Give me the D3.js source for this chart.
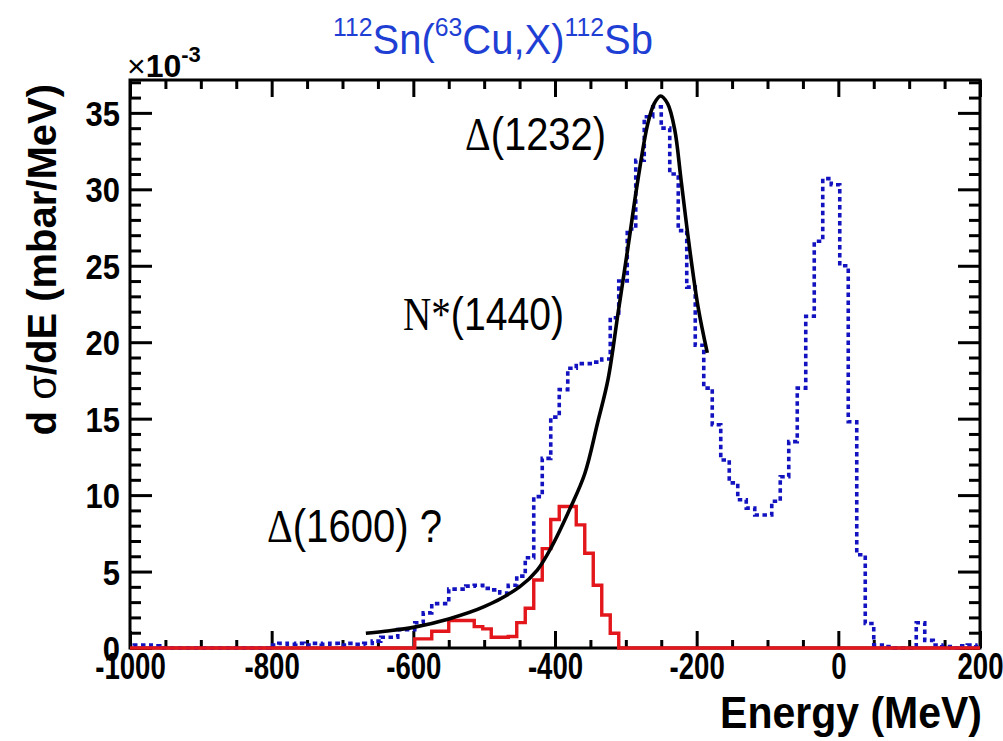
<!DOCTYPE html>
<html>
<head>
<meta charset="utf-8">
<script src="https://cdn.jsdelivr.net/npm/d3@7"></script>
<style>
  html, body { margin: 0; padding: 0; background: #fff; }
  svg { display: block; }
</style>
</head>
<body>
<svg id="chart" width="1003" height="741"></svg>
<script>
// Energy-transfer spectrum, 112Sn(63Cu,X)112Sb, in units of 1e-3 mbar/MeV.
// Both histograms share 12 MeV bins whose first lower edge is binStart.
const binStart = -1006;
const binWidth = 12;

// dashed blue histogram (measured spectrum)
const blueCounts = [
  0.15, 0.2, 0.2, 0.15, 0, 0, 0, 0, 0, 0,
  0, 0, 0, 0, 0, 0, 0, 0.2, 0.3, 0.25,
  0.3, 0.2, 0.3, 0.25, 0.3, 0.2, 0.3, 0.25, 0.3, 0.45,
  0.7, 0.7, 1.2, 1.2, 1.65, 2.3, 2.9, 2.9, 3.85, 3.85,
  4.05, 4.1, 3.9, 3.8, 3.6, 4.1, 4.7, 5.9, 9.9, 12.4,
  15.1, 16.9, 18.3, 18.6, 18.6, 18.7, 18.9, 21.6, 24.0, 27.4,
  31.9, 34.75, 35.4, 34.0, 31.0, 27.3, 23.6, 19.8, 17.0, 14.6,
  12.3, 10.8, 9.7, 9.15, 8.7, 8.7, 9.6, 11.2, 13.5, 17.0,
  21.7, 26.6, 30.7, 30.3, 25.0, 14.8, 6.1, 1.6, 0.2, 0.1,
  0, 0, 0, 1.65, 0.5, 0.2, 0.1, 0, 0.15, 0.2,
  0.1
];

// solid red histogram
const redCounts = [
  0, 0, 0, 0, 0, 0, 0, 0, 0, 0,
  0, 0, 0, 0, 0, 0, 0, 0, 0, 0,
  0, 0, 0, 0, 0, 0, 0, 0, 0, 0,
  0, 0, 0, 0, 0.6, 0.6, 1.1, 1.1, 1.8, 1.8,
  1.8, 1.4, 1.25, 0.7, 0.7, 0.75, 1.66, 2.6, 4.45, 6.5,
  8.4, 9.25, 9.25, 8.05, 6.2, 4.1, 2.16, 0.96, 0, 0,
  0, 0, 0, 0, 0, 0, 0, 0, 0, 0,
  0, 0, 0, 0, 0, 0, 0, 0, 0, 0,
  0, 0, 0, 0, 0, 0, 0, 0, 0, 0,
  0, 0, 0, 0, 0, 0, 0, 0, 0, 0,
  0
];

// black fitted curve (resonance line shape)
const fitEnergy = [-667, -640, -600, -550, -500, -450, -425, -405, -378, -358,
                   -340, -325, -311, -297, -283, -269, -260, -251, -241, -231,
                   -222, -211, -198, -185];
const fitValue  = [0.96, 1.1, 1.35, 1.9, 2.7, 4.0, 5.1, 6.6, 9.2, 11.4,
                   14.7, 17.6, 21.9, 26.2, 30.6, 34.3, 35.6, 36.1, 35.6, 33.9,
                   30.6, 26.5, 22.3, 19.3];

const xMajor = [-1000, -800, -600, -400, -200, 0, 200];
const xMinor = d3.range(-1000, 201, 50).filter(v => !xMajor.includes(v));
const yMajor = [0, 5, 10, 15, 20, 25, 30, 35];
const yMinor = d3.range(0, 38, 1).filter(v => !yMajor.includes(v));

const annotations = [
  { parts: [["\u0394", "serif"], ["(1232)", "sans"]], x: 465, y: 150, w: 141 },
  { parts: [["N*", "serif"], ["(1440)", "sans"]],     x: 403, y: 330, w: 161 },
  { parts: [["\u0394", "serif"], ["(1600) ?", "sans"]], x: 267, y: 542, w: 175 }
];

// ---------------------------------------------------------------------------
const svg = d3.select("#chart");
const pL = 130, pR = 980, pT = 80, pB = 648;
const x = d3.scaleLinear().domain([-1000, 200]).range([pL, pR]);
const y = d3.scaleLinear().domain([0, 37.15]).range([pB, pT]);

svg.append("rect").attr("width", 1003).attr("height", 741).attr("fill", "#fff");

svg.append("defs").append("clipPath").attr("id", "plotClip")
  .append("rect").attr("x", pL).attr("y", pT - 2)
  .attr("width", pR - pL).attr("height", pB - pT + 5);

// frame
svg.append("rect")
  .attr("x", pL).attr("y", pT)
  .attr("width", pR - pL).attr("height", pB - pT)
  .attr("fill", "none").attr("stroke", "#000").attr("stroke-width", 3);

// inward ticks on all four sides
function tickAxis(axis, transform) {
  const g = svg.append("g").attr("transform", transform).call(axis);
  g.select(".domain").remove();
  g.selectAll(".tick text").remove();
  g.selectAll(".tick line").attr("stroke", "#000").attr("stroke-width", 3);
  return g;
}
tickAxis(d3.axisBottom(x).tickValues(xMajor).tickSize(-17), `translate(0,${pB})`);
tickAxis(d3.axisBottom(x).tickValues(xMinor).tickSize(-8), `translate(0,${pB})`);
tickAxis(d3.axisTop(x).tickValues(xMajor).tickSize(-17), `translate(0,${pT})`);
tickAxis(d3.axisTop(x).tickValues(xMinor).tickSize(-9), `translate(0,${pT})`);
tickAxis(d3.axisLeft(y).tickValues(yMajor).tickSize(-22), `translate(${pL},0)`);
tickAxis(d3.axisLeft(y).tickValues(yMinor).tickSize(-11), `translate(${pL},0)`);
tickAxis(d3.axisRight(y).tickValues(yMajor).tickSize(-22), `translate(${pR},0)`);
tickAxis(d3.axisRight(y).tickValues(yMinor).tickSize(-11), `translate(${pR},0)`);

// tick labels (slightly tall, narrow lettering)
const labelFont = "'Liberation Sans', Arial, sans-serif";
const xl = svg.append("g").attr("transform", `translate(0,${pB})`)
  .call(d3.axisBottom(x).tickValues(xMajor).tickSize(0).tickPadding(0).tickFormat(d => String(d)));
xl.select(".domain").remove();
xl.selectAll("text")
  .attr("font-family", labelFont).attr("font-weight", "bold")
  .attr("font-size", 30).attr("fill", "#000")
  .attr("dy", null).attr("y", 31 / 1.22)
  .attr("transform", "scale(0.92,1.22)");
// the last label sits flush against the right edge
xl.selectAll(".tick").filter(d => d === 200).select("text")
  .attr("text-anchor", "end").attr("x", 23 / 0.92);

const yl = svg.append("g").attr("transform", `translate(${pL},0)`)
  .call(d3.axisLeft(y).tickValues(yMajor).tickSize(0).tickPadding(10).tickFormat(d => String(d)));
yl.select(".domain").remove();
yl.selectAll("text")
  .attr("font-family", labelFont).attr("font-weight", "bold")
  .attr("font-size", 31).attr("fill", "#000").attr("dy", "0.36em")
  .attr("transform", "scale(1,1.12)");

// exponent marker
const expo = svg.append("text").attr("x", 127).attr("y", 77)
  .attr("font-family", labelFont).attr("font-size", 32).attr("fill", "#000");
expo.append("tspan").text("\u00d7");
expo.append("tspan").attr("font-weight", "bold").text("10");
expo.append("tspan").attr("font-weight", "bold").attr("font-size", 22).attr("dy", -15).text("-3");

// axis titles
svg.append("text")
  .attr("x", pR + 2).attr("y", 728)
  .attr("text-anchor", "end")
  .attr("font-family", labelFont).attr("font-weight", "bold")
  .attr("font-size", 41).attr("fill", "#000")
  .attr("transform", `translate(0,${-728 * 0.1}) scale(1,1.1)`)
  .text("Energy (MeV)");

const yt = svg.append("text")
  .attr("transform", "translate(56,84) rotate(-90)")
  .attr("text-anchor", "end")
  .attr("font-family", labelFont).attr("font-weight", "bold")
  .attr("font-size", 40).attr("fill", "#000");
yt.append("tspan").text("d ");
yt.append("tspan").attr("font-weight", "normal").text("\u03c3");
yt.append("tspan").text("/dE (mbar/MeV)");

// histograms
function stepPoints(counts) {
  const pts = counts.map((v, i) => [binStart + i * binWidth, v]);
  pts.push([binStart + counts.length * binWidth, counts[counts.length - 1]]);
  return pts;
}
const stepLine = d3.line()
  .x(d => x(d[0])).y(d => y(d[1]))
  .curve(d3.curveStepAfter);

const plot = svg.append("g").attr("clip-path", "url(#plotClip)");

plot.append("path")
  .attr("d", stepLine(stepPoints(blueCounts)))
  .attr("fill", "none").attr("stroke", "#1212c0")
  .attr("stroke-width", 3.6).attr("stroke-dasharray", "4.5,3.5");

plot.append("path")
  .attr("d", stepLine(stepPoints(redCounts)))
  .attr("fill", "none").attr("stroke", "#e3161b")
  .attr("stroke-width", 3.4);

plot.append("path")
  .attr("d", d3.line().x(d => x(d[0])).y(d => y(d[1])).curve(d3.curveCatmullRom)(
    fitEnergy.map((e, i) => [e, fitValue[i]])))
  .attr("fill", "none").attr("stroke", "#000")
  .attr("stroke-width", 3.6).attr("stroke-linecap", "butt");

// title
const title = svg.append("text")
  .attr("x", 333).attr("y", 54)
  .attr("font-family", labelFont).attr("font-size", 42).attr("fill", "#1f3fd4")
  .attr("textLength", 320).attr("lengthAdjust", "spacingAndGlyphs");
title.append("tspan").attr("font-size", 26).attr("dy", -18).text("112");
title.append("tspan").attr("dy", 18).text("Sn(");
title.append("tspan").attr("font-size", 26).attr("dy", -18).text("63");
title.append("tspan").attr("dy", 18).text("Cu,X)");
title.append("tspan").attr("font-size", 26).attr("dy", -18).text("112");
title.append("tspan").attr("dy", 18).text("Sb");

// resonance labels
annotations.forEach(a => {
  const t = svg.append("text")
    .attr("x", a.x).attr("y", a.y)
    .attr("font-size", 46).attr("fill", "#000")
    .attr("textLength", a.w).attr("lengthAdjust", "spacingAndGlyphs");
  a.parts.forEach(([s, f]) => {
    t.append("tspan")
      .attr("font-family", f === "serif" ? "'Liberation Serif', 'Times New Roman', serif" : labelFont)
      .text(s);
  });
});
</script>
</body>
</html>
